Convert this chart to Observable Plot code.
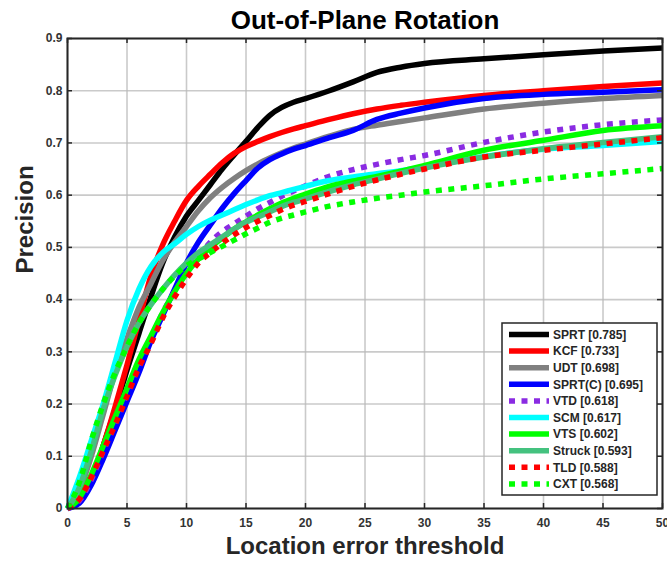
<!DOCTYPE html>
<html>
<head>
<meta charset="utf-8">
<script src="https://cdn.jsdelivr.net/npm/d3@7"></script>
<script src="https://cdn.jsdelivr.net/npm/@observablehq/plot@0.6"></script>
<style>
  html, body { margin: 0; padding: 0; background: #fff; }
  #chart { width: 667px; height: 564px; }
</style>
</head>
<body>
<div id="chart"></div>
<script>
// Location error thresholds (pixels) at which precision is sampled
const thresholds = [0,1,2,3,4,5,6,7,8,9,10,11,12,13,14,15,16,17,18,19,20,22,24,26,28,30,35,40,45,50];

// Precision per tracker
const sprt   = [0,0.015,0.05,0.12,0.19,0.265,0.335,0.405,0.47,0.52,0.56,0.59,0.62,0.65,0.677,0.703,0.73,0.753,0.768,0.778,0.785,0.800,0.817,0.835,0.845,0.852,0.861,0.869,0.876,0.882];
const kcf    = [0,0.015,0.05,0.12,0.195,0.275,0.36,0.445,0.505,0.55,0.59,0.617,0.64,0.662,0.68,0.693,0.703,0.712,0.72,0.727,0.733,0.745,0.756,0.765,0.772,0.778,0.791,0.80,0.808,0.815];
const udt    = [0,0.035,0.1,0.18,0.26,0.325,0.385,0.43,0.475,0.51,0.54,0.57,0.595,0.615,0.632,0.647,0.66,0.671,0.681,0.69,0.698,0.713,0.726,0.734,0.741,0.748,0.765,0.776,0.785,0.791];
const sprtC  = [0,0.01,0.045,0.095,0.15,0.205,0.26,0.32,0.37,0.42,0.47,0.51,0.543,0.575,0.603,0.628,0.652,0.668,0.679,0.688,0.695,0.71,0.724,0.745,0.757,0.767,0.785,0.793,0.797,0.802];
const vtd    = [0,0.015,0.055,0.11,0.165,0.22,0.275,0.325,0.375,0.415,0.45,0.482,0.51,0.53,0.545,0.56,0.574,0.586,0.598,0.608,0.618,0.636,0.649,0.659,0.668,0.676,0.701,0.721,0.735,0.744];
const scm    = [0,0.06,0.13,0.2,0.28,0.36,0.42,0.463,0.49,0.507,0.525,0.54,0.552,0.562,0.572,0.582,0.591,0.599,0.605,0.611,0.617,0.628,0.635,0.641,0.647,0.654,0.674,0.688,0.695,0.703];
const vts    = [0,0.02,0.065,0.12,0.175,0.23,0.285,0.33,0.375,0.415,0.45,0.478,0.5,0.518,0.535,0.549,0.562,0.574,0.585,0.594,0.602,0.617,0.627,0.636,0.646,0.657,0.686,0.705,0.724,0.733];
const struck = [0,0.04,0.11,0.19,0.255,0.31,0.355,0.39,0.42,0.447,0.47,0.49,0.505,0.52,0.535,0.548,0.558,0.568,0.578,0.586,0.593,0.607,0.62,0.631,0.642,0.652,0.673,0.689,0.701,0.712];
const tld    = [0,0.018,0.06,0.11,0.16,0.215,0.27,0.315,0.365,0.405,0.44,0.47,0.49,0.508,0.524,0.538,0.55,0.561,0.572,0.581,0.588,0.603,0.617,0.629,0.64,0.65,0.673,0.686,0.698,0.71];
const cxt    = [0,0.05,0.13,0.2,0.26,0.31,0.355,0.39,0.42,0.445,0.465,0.478,0.49,0.502,0.514,0.526,0.537,0.548,0.556,0.562,0.568,0.579,0.587,0.594,0.6,0.606,0.618,0.631,0.641,0.651];

const trackerNames = ["SPRT","KCF","UDT","SPRT(C)","VTD","SCM","VTS","Struck","TLD","CXT"];
const trackerValues = [sprt, kcf, udt, sprtC, vtd, scm, vts, struck, tld, cxt];

const xTicks = [0,5,10,15,20,25,30,35,40,45,50];
const yTicks = [0,0.1,0.2,0.3,0.4,0.5,0.6,0.7,0.8,0.9];

// Line styles
const styles = {
  "SPRT":    {color: "#000000", dotted: false},
  "KCF":     {color: "#ff0000", dotted: false},
  "UDT":     {color: "#808080", dotted: false},
  "SPRT(C)": {color: "#0000ff", dotted: false},
  "VTD":     {color: "#8a2be2", dotted: true},
  "SCM":     {color: "#00ffff", dotted: false},
  "VTS":     {color: "#00ff00", dotted: false},
  "Struck":  {color: "#44c27f", dotted: false},
  "TLD":     {color: "#ff0000", dotted: true},
  "CXT":     {color: "#00ff00", dotted: true}
};
const LINE_W = 5.5;
const DOTS = "6,6.5";

// Score shown in the legend = precision at the 20 px threshold
const at20 = thresholds.indexOf(20);
const series = trackerNames.map((name, k) => ({
  name,
  values: trackerValues[k],
  label: `${name} [${trackerValues[k][at20].toFixed(3)}]`,
  ...styles[name]
}));

const W = 667, H = 564;
const mL = 67, mR = 5, mT = 38, mB = 56;
const frameW = W - mL - mR, frameH = H - mT - mB;
const ink = "#262626";
const TICK = 5;

const fmtY = d => d === 0 ? "0" : d.toFixed(1);

const chart = Plot.plot({
  width: W,
  height: H,
  marginLeft: mL,
  marginRight: mR,
  marginTop: mT,
  marginBottom: mB,
  x: {domain: [0, 50]},
  y: {domain: [0, 0.9]},
  style: {fontFamily: "'Liberation Sans', Arial, sans-serif", background: "#fff"},
  marks: [
    Plot.gridX(xTicks, {stroke: "#b8b8b8", strokeOpacity: 0.75, strokeWidth: 1.6}),
    Plot.gridY(yTicks, {stroke: "#b8b8b8", strokeOpacity: 0.75, strokeWidth: 1.6}),
    ...series.map(s => Plot.line(thresholds, {
      x: d => d,
      y: (d, i) => s.values[i],
      stroke: s.color,
      strokeWidth: LINE_W,
      strokeDasharray: s.dotted ? DOTS : undefined,
      strokeLinecap: "butt",
      strokeLinejoin: "round",
      curve: "monotone-x"
    })),
    // inward tick marks on all four sides
    Plot.gridX(xTicks, {stroke: ink, strokeOpacity: 1, strokeWidth: 1.5, insetTop: frameH - TICK}),
    Plot.gridX(xTicks, {stroke: ink, strokeOpacity: 1, strokeWidth: 1.5, insetBottom: frameH - TICK}),
    Plot.gridY(yTicks, {stroke: ink, strokeOpacity: 1, strokeWidth: 1.5, insetRight: frameW - TICK}),
    Plot.gridY(yTicks, {stroke: ink, strokeOpacity: 1, strokeWidth: 1.5, insetLeft: frameW - TICK}),
    Plot.frame({stroke: ink, strokeWidth: 2}),
    Plot.axisX({ticks: xTicks, tickSize: 0, tickPadding: 10, fontSize: 12, fontWeight: "bold", color: "#333", label: null}),
    Plot.axisY({ticks: yTicks, tickSize: 0, tickPadding: 5, fontSize: 12, fontWeight: "bold", color: "#333", label: null, tickFormat: fmtY}),
    Plot.text(["Out-of-Plane Rotation"], {frameAnchor: "top", dy: -18, fontSize: 26, fontWeight: "bold", fill: "#000", lineAnchor: "middle"}),
    Plot.text(["Location error threshold"], {frameAnchor: "bottom", dy: 38, fontSize: 24, fontWeight: "bold", fill: "#262626", lineAnchor: "middle"}),
    Plot.text(["Precision"], {frameAnchor: "left", dx: -42, rotate: -90, fontSize: 24, fontWeight: "bold", fill: "#262626", lineAnchor: "middle"})
  ]
});

// Legend box inside the plot area, lower right
const svg = d3.select(chart);
const lg = svg.append("g")
  .attr("font-family", "'Liberation Sans', Arial, sans-serif")
  .attr("text-anchor", "start");
const box = {x0: 502, y0: 323, x1: 657, y1: 495};
lg.append("rect")
  .attr("x", box.x0).attr("y", box.y0)
  .attr("width", box.x1 - box.x0).attr("height", box.y1 - box.y0)
  .attr("fill", "#fff").attr("stroke", ink).attr("stroke-width", 1.5);
const rowY0 = 334.5, rowStep = 16.6;
series.forEach((s, i) => {
  const y = rowY0 + i * rowStep;
  lg.append("line")
    .attr("x1", 509).attr("x2", 549).attr("y1", y).attr("y2", y)
    .attr("stroke", s.color).attr("stroke-width", LINE_W)
    .attr("stroke-dasharray", s.dotted ? DOTS : null);
  lg.append("text")
    .attr("x", 553).attr("y", y).attr("dy", "0.36em")
    .attr("text-anchor", "start")
    .attr("font-size", 12).attr("font-weight", "bold").attr("fill", "#262626")
    .text(s.label);
});

document.getElementById("chart").appendChild(chart);
</script>
</body>
</html>
